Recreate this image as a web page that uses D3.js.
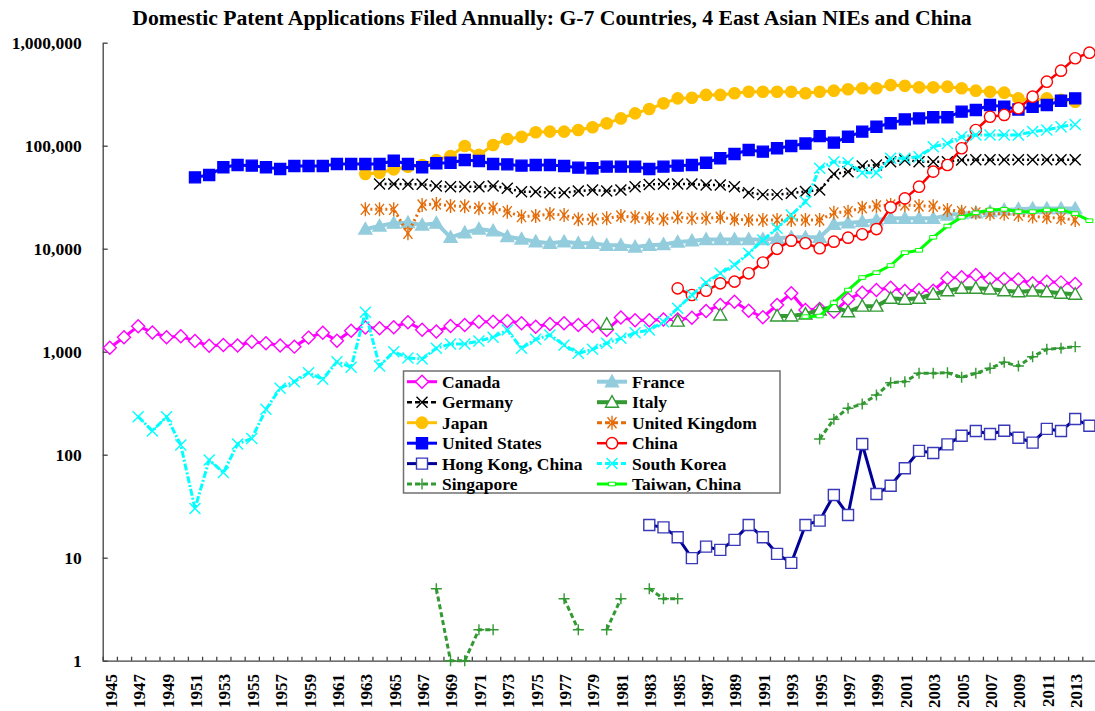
<!DOCTYPE html>
<html>
<head>
<meta charset="utf-8">
<script src="https://cdn.jsdelivr.net/npm/d3@7"></script>
<style>
  body { margin: 0; background: #fff; }
  svg { display: block; font-weight: bold; }
</style>
</head>
<body>
<svg id="chart" width="1095" height="711" font-family="Liberation Serif, Times New Roman, serif"></svg>
<script>
// Domestic patent applications per year.
const firstYear = 1945, lastYear = 2014;
const yearLabels = ["1945","1947","1949","1951","1953","1955","1957","1959","1961","1963","1965","1967",
  "1969","1971","1973","1975","1977","1979","1981","1983","1985","1987","1989","1991","1993","1995",
  "1997","1999","2001","2003","2005","2007","2009","2011","2013"];
const yTicks = [1, 10, 100, 1000, 10000, 100000, 1000000];

const canadaStart = 1945;
const canada = [1094, 1380, 1770, 1540, 1380, 1410, 1270, 1140, 1160, 1150,
  1250, 1210, 1150, 1120, 1370, 1530, 1280, 1600, 1720, 1690,
  1730, 1930, 1630, 1570, 1780, 1820, 1950, 1950, 1990, 1890,
  1750, 1860, 1890, 1820, 1780, 1620, 2150, 2020, 2020, 2050,
  2050, 2140, 2480, 2840, 3050, 2500, 2160, 2840, 3690, 2540,
  2600, 2440, 3230, 3740, 3970, 4180, 3880, 3970, 3910, 5160,
  5270, 5560, 5080, 5080, 5030, 4610, 4780, 4710, 4540];

const franceStart = 1963;
const france = [15500, 16600, 17700, 17900, 17000, 17700, 12900, 14300, 15500, 14900,
  13100, 12400, 11700, 11300, 11700, 11300, 11300, 10800, 10800, 10400,
  10800, 11000, 11600, 11900, 12300, 12300, 12300, 12300, 12300, 12600,
  12900, 12900, 12900, 17300, 17800, 18300, 19000, 19700, 19700, 19700,
  19700, 21200, 21900, 22300, 22900, 23800, 24200, 24500, 24500, 24500,
  24500];

const germanyStart = 1964;
const germany = [42500, 42500, 42200, 42200, 40600, 40000, 40000, 40000, 40600, 38600,
  35700, 35700, 35000, 35000, 36300, 37100, 36300, 37100, 40000, 42000,
  42500, 42500, 42500, 41500, 41500, 40000, 35000, 33500, 33500, 34500,
  36000, 37100, 53000, 56000, 63500, 65000, 70000, 72600, 70000, 70000,
  70000, 72600, 73000, 73000, 73000, 73000, 73000, 73000, 73000, 73000];

const italyStart = 1980;
const italy = [1850, null, null, null, null, 1980, null, null, 2270, null,
  null, null, 2220, 2220, 2320, 2540, 2740, 2440, 2770, 2770,
  3300, 3230, 3300, 3610, 3910, 4130, 4130, 4060, 3910, 3820,
  3880, 3820, 3690, 3610];

const japanStart = 1963;
const japan = [53100, 54700, 59000, 62600, 65000, 72600, 79400, 99300, 81300, 101600,
  116000, 122000, 135000, 137000, 137000, 142000, 151000, 165000, 184000, 206000,
  227000, 258000, 288000, 292000, 311000, 311000, 323000, 334000, 334000, 334000,
  334000, 323000, 334000, 342000, 353000, 361000, 361000, 388000, 382000, 369000,
  369000, 374000, 361000, 342000, 334000, 327000, 288000, 273000, 288000, 278000,
  267000];

const ukStart = 1963;
const uk = [24100, 24100, 24100, 14100, 26600, 27200, 26000, 25800, 24700, 24700,
  22900, 20500, 20800, 21700, 21200, 19300, 19300, 19700, 20800, 20200,
  19700, 19300, 20200, 19700, 19700, 20200, 19300, 19000, 19000, 19000,
  19000, 19000, 19000, 22300, 22900, 25000, 26000, 26600, 26600, 26000,
  25800, 23800, 22900, 22300, 21900, 21900, 21200, 20500, 20200, 19700,
  19000];

const usStart = 1951;
const us = [49300, 52000, 61700, 65000, 64000, 61700, 59400, 63500, 63500, 63500,
  66400, 66400, 66400, 66400, 71500, 66400, 61700, 67500, 68400, 72600,
  71000, 66400, 65900, 64000, 65000, 65000, 63500, 61200, 60400, 62600,
  62600, 62600, 59400, 62600, 64000, 65000, 68400, 75500, 83000, 90800,
  87500, 94400, 99300, 105000, 124000, 107000, 122000, 137000, 153000, 165000,
  180000, 184000, 189000, 189000, 214000, 222000, 248000, 239000, 225000, 239000,
  248000, 273000, 288000];

const chinaStart = 1985;
const china = [4120, 3550, 3910, 4610, 4790, 5770, 7350, 9980, 11970, 11300,
  10100, 11700, 12800, 13800, 15500, 25200, 30800, 40000, 56000, 65000,
  94400, 142000, 191000, 199000, 231000, 299000, 418000, 535000, 706000, 800000];

const hongKongStart = 1983;
const hongKong = [20.8, 19.7, 15.8, 9.9, 12.8, 11.9, 14.9, 20.8, 15.8, 10.9,
  8.9, 20.8, 22.9, 40.6, 26, 127, 41.5, 50, 73.8, 109,
  104, 126, 153, 170, 159, 171, 146, 131, 178, 170,
  222, 191];

const koreaStart = 1947;
const korea = [234, 170, 234, 124, 30, 89, 67, 127, 144, 276,
  441, 511, 625, 540, 800, 706, 2410, 726, 1000, 869,
  849, 1080, 1189, 1189, 1270, 1380, 1625, 1080, 1320, 1452,
  1160, 964, 1055, 1210, 1350, 1530, 1625, 1950, 2640, 3550,
  4680, 5770, 6950, 9020, 12140, 15770, 21200, 28600, 60400, 70000,
  68400, 54700, 54700, 75500, 75500, 78200, 97700, 105000, 122000, 127000,
  127000, 127000, 127000, 137000, 142000, 153000, 161000];

const singaporeStart = 1968;
const singapore = [5, 1, 1, 2, 2, null, null, null, null, 4,
  2, null, 2, 4, null, 5, 4, 4, null, null,
  null, null, null, null, null, null, null, 142, 221, 282,
  310, 380, 500, 512, 617, 617, 625, 564, 617, 690,
  789, 726, 894, 1055, 1080, 1120];

const taiwanStart = 1994;
const taiwan = [2190, 2220, 2990, 3970, 5250, 5850, 6870, 9150, 9640, 12900,
  16600, 20200, 22300, 23800, 24100, 22900, 22900, 23800, 23800, 21900,
  18700];

// marker shapes, centred on the point
const MARKS = {
  diamond: "M0,-6.5L6.5,0L0,6.5L-6.5,0Z",
  x: "M-5.5,-5.5L5.5,5.5M-5.5,5.5L5.5,-5.5",
  circle: d3.symbol(d3.symbolCircle, 100)(),
  square: "M-5.5,-5.5h11v11h-11Z",
  triangle: "M0,-6.5L6.5,5L-6.5,5Z",
  asterisk: "M-4.5,-5.5L4.5,5.5M-4.5,5.5L4.5,-5.5M0,-7V7",
  plus: "M-5.5,0H5.5M0,-5.5V5.5",
  dash: "M-3.5,-1.8h7v3.6h-7Z"
};

const series = [
  { name: "Canada", start: canadaStart, values: canada, color: "#FF00FF", width: 3, mark: "diamond", fill: "#fff" },
  { name: "France", start: franceStart, values: france, color: "#93CDDD", width: 4, mark: "triangle", fill: "#93CDDD" },
  { name: "Germany", start: germanyStart, values: germany, color: "#000", width: 2.5, dash: "2,3", mark: "x", fill: "none" },
  { name: "Italy", start: italyStart, values: italy, color: "#339933", width: 4, mark: "triangle", fill: "#fff" },
  { name: "Japan", start: japanStart, values: japan, color: "#FFC000", width: 3, mark: "circle", fill: "#FFC000" },
  { name: "United Kingdom", start: ukStart, values: uk, color: "#E36C09", width: 3, dash: "2,3", mark: "asterisk", fill: "none" },
  { name: "United States", start: usStart, values: us, color: "#0000FF", width: 3, mark: "square", fill: "#0000FF" },
  { name: "China", start: chinaStart, values: china, color: "#FF0000", width: 2.5, mark: "circle", fill: "#fff" },
  { name: "Hong Kong, China", start: hongKongStart, values: hongKong, color: "#000099", markColor: "#3838B8", width: 3, mark: "square", fill: "#fff" },
  { name: "South Korea", start: koreaStart, values: korea, color: "#00FFFF", width: 3, dash: "7,2,2,2", mark: "x", fill: "none" },
  { name: "Singapore", start: singaporeStart, values: singapore, color: "#339933", width: 3, dash: "5,3", mark: "plus", fill: "none" },
  { name: "Taiwan, China", start: taiwanStart, values: taiwan, color: "#00FF00", width: 3, mark: "dash", fill: "#fff", markWidth: 1 }
];

const svg = d3.select("#chart");
const m = { left: 102.7, right: 1096.5, top: 42.7, bottom: 660.7 };

const x = d3.scaleLinear([firstYear - 0.5, lastYear + 0.5], [m.left, m.right]);
const y = d3.scaleLog([1, 1e6], [m.bottom, m.top]);

svg.append("text")
  .attr("x", 552).attr("y", 25).attr("text-anchor", "middle")
  .attr("font-size", 21.7)
  .text("Domestic Patent Applications Filed Annually: G-7 Countries, 4 East Asian NIEs and China");

// y axis, ticks pointing into the plot
const yAxis = svg.append("g").attr("transform", `translate(${m.left},0)`)
  .call(d3.axisLeft(y).tickValues(yTicks).tickFormat(d3.format(","))
    .tickSizeInner(-5).tickSizeOuter(0).tickPadding(21));
yAxis.attr("font-family", null).attr("font-size", null);
yAxis.selectAll("text").attr("font-size", 17.5).attr("fill", "#000");
yAxis.selectAll("path,line").attr("stroke", "#404040").attr("stroke-width", 1.3);

// x axis: tick marks at year boundaries, labels on odd years
const edges = d3.range(firstYear - 0.5, lastYear + 1, 1);
const xAxis = svg.append("g").attr("transform", `translate(0,${m.bottom})`)
  .call(d3.axisBottom(x).tickValues(edges).tickFormat("").tickSizeInner(-4).tickSizeOuter(0));
xAxis.attr("font-family", null);
xAxis.selectAll("path,line").attr("stroke", "#404040").attr("stroke-width", 1.3);

svg.append("g").selectAll("text").data(yearLabels).join("text")
  .attr("transform", (d) => `translate(${x(+d) + 1},${674}) rotate(-90)`)
  .attr("text-anchor", "end").attr("dy", "0.35em")
  .attr("font-size", 17)
  .text((d) => d);

const line = d3.line()
  .defined((d) => d.v != null)
  .x((d) => x(d.year)).y((d) => y(d.v));

const plot = svg.append("g");
for (const s of series) {
  const pts = s.values.map((v, i) => ({ year: s.start + i, v }));
  plot.append("path").datum(pts)
    .attr("fill", "none").attr("stroke", s.color).attr("stroke-width", s.width)
    .attr("stroke-dasharray", s.dash || null)
    .attr("stroke-linejoin", "round")
    .attr("d", line);
  plot.append("g").selectAll("path").data(pts.filter((d) => d.v != null)).join("path")
    .attr("transform", (d) => `translate(${x(d.year)},${y(d.v)})`)
    .attr("d", MARKS[s.mark])
    .attr("fill", s.fill)
    .attr("stroke", s.markColor || s.color)
    .attr("stroke-width", s.markWidth || 1.4);
}

// legend
const lg = svg.append("g");
lg.append("rect").attr("x", 403.5).attr("y", 371).attr("width", 376.5).attr("height", 122)
  .attr("fill", "#fff").attr("stroke", "#707070").attr("stroke-width", 1.5);
const rowY = [381.7, 402.2, 422.7, 443.2, 463.6, 484];
series.forEach((s, i) => {
  const col = i % 2, row = Math.floor(i / 2);
  const x0 = col === 0 ? 407 : 597;
  const cy = rowY[row];
  const g = lg.append("g");
  g.append("line").attr("x1", x0).attr("x2", x0 + 30).attr("y1", cy).attr("y2", cy)
    .attr("stroke", s.color).attr("stroke-width", s.width)
    .attr("stroke-dasharray", s.dash ? "5,3" : null);
  g.append("path").attr("transform", `translate(${x0 + 15},${cy})`)
    .attr("d", MARKS[s.mark]).attr("fill", s.fill)
    .attr("stroke", s.markColor || s.color).attr("stroke-width", s.markWidth || 1.4);
  g.append("text").attr("x", x0 + 35).attr("y", cy + 6)
    .attr("font-size", 17.5).text(s.name);
});
</script>
</body>
</html>
